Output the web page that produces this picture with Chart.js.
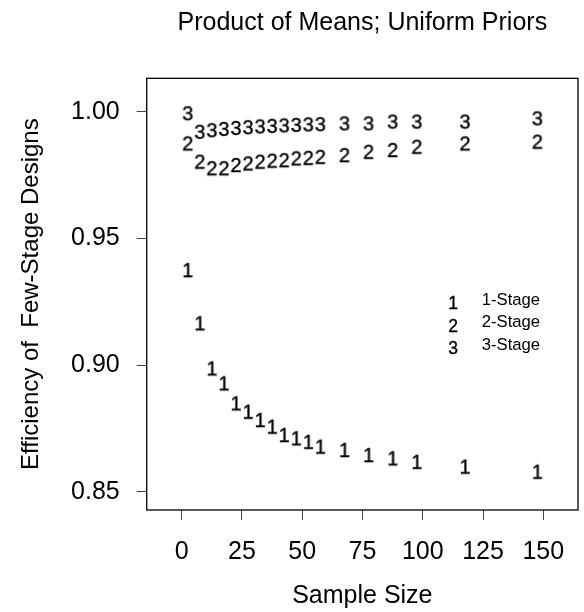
<!DOCTYPE html>
<html>
<head>
<meta charset="utf-8">
<script src="https://cdn.jsdelivr.net/npm/chart.js@4.4.1/dist/chart.umd.min.js"></script>
<style>
  html, body { margin: 0; padding: 0; background: #fff; }
</style>
</head>
<body>
<canvas id="myChart" width="584" height="612"></canvas>
<script>
// values
let sampleSize = [2.5, 7.5, 12.5, 17.5, 22.5, 27.5, 32.5, 37.5, 42.5, 47.5, 52.5, 57.5, 67.5, 77.5, 87.5, 97.5, 117.5, 147.5];
let stage1 = [0.9375, 0.9165, 0.8987, 0.8928, 0.8849, 0.8816, 0.8783, 0.8757, 0.8724, 0.8711, 0.8697, 0.8678, 0.8665, 0.8645, 0.8632, 0.8618, 0.8599, 0.8579];
let stage2 = [0.9875, 0.9803, 0.9777, 0.9777, 0.9790, 0.9796, 0.9803, 0.9807, 0.9809, 0.9816, 0.9818, 0.9822, 0.9829, 0.9842, 0.9849, 0.9862, 0.9875, 0.9882];
let stage3 = [0.9994, 0.9921, 0.9927, 0.9932, 0.9936, 0.9939, 0.9942, 0.9944, 0.9946, 0.9948, 0.9950, 0.9951, 0.9954, 0.9954, 0.9961, 0.9961, 0.9961, 0.9974];
let xTicks = [0, 25, 50, 75, 100, 125, 150];
let yTicks = [0.85, 0.90, 0.95, 1.00];
let legendLabels = ['1-Stage', '2-Stage', '3-Stage'];

const FONT = '"Liberation Sans", Arial, Helvetica, sans-serif';
Chart.defaults.font.family = FONT;
Chart.defaults.color = '#000';

// a digit drawn on a small canvas, used as the point style
function digitImage(ch, size) {
  let c = document.createElement('canvas');
  c.width = Math.ceil(size * 0.8);
  c.height = Math.ceil(size * 1.0);
  let g = c.getContext('2d');
  g.font = size + 'px ' + FONT;
  g.fillStyle = '#000';
  g.strokeStyle = '#000';
  g.lineWidth = 0.35;
  g.textAlign = 'center';
  g.textBaseline = 'alphabetic';
  let by = c.height / 2 + size * 0.716 / 2;
  g.fillText(ch, c.width / 2, by);
  g.strokeText(ch, c.width / 2, by);
  return c;
}

function pts(ys) {
  return sampleSize.map((x, i) => ({x: x, y: ys[i]}));
}

let marks = ['1', '2', '3'].map(d => digitImage(d, 20));
let legendMarks = ['1', '2', '3'].map(d => digitImage(d, 17.5));

const boxPlugin = {
  id: 'box',
  beforeDatasetsDraw(chart) {
    let a = chart.chartArea, ctx = chart.ctx;
    ctx.save();
    ctx.strokeStyle = '#000';
    ctx.lineWidth = 1.3;
    ctx.strokeRect(a.left, a.top, a.right - a.left, a.bottom - a.top);
    ctx.restore();
  }
};

const legendPlugin = {
  id: 'innerLegend',
  afterDatasetsDraw(chart) {
    let a = chart.chartArea, ctx = chart.ctx;
    ctx.save();
    ctx.font = '16.7px ' + FONT;
    ctx.fillStyle = '#000';
    ctx.textAlign = 'left';
    ctx.textBaseline = 'middle';
    for (let i = 0; i < legendLabels.length; i++) {
      let img = legendMarks[i];
      let cy = a.top + 225 + i * 22.5;
      ctx.drawImage(img, Math.round(a.left + 306.6 - img.width / 2), Math.round(cy - img.height / 2));
      ctx.fillText(legendLabels[i], a.left + 335, cy - 3);
    }
    ctx.restore();
  }
};

let ctx = document.getElementById('myChart').getContext('2d');
const myChart = new Chart(ctx, {
  type: 'scatter',
  data: {
    datasets: [
      {label: '1-Stage', data: pts(stage1), pointStyle: marks[0]},
      {label: '2-Stage', data: pts(stage2), pointStyle: marks[1]},
      {label: '3-Stage', data: pts(stage3), pointStyle: marks[2]}
    ]
  },
  options: {
    responsive: false,
    animation: false,
    layout: {padding: {left: 0, right: 6, top: 0, bottom: 0}},
    scales: {
      x: {
        type: 'linear',
        min: -14.5,
        max: 164.4,
        afterBuildTicks: axis => { axis.ticks = xTicks.map(v => ({value: v})); },
        afterFit: axis => { axis.height = 102; },
        ticks: {font: {size: 25}, color: '#000', padding: 17, maxRotation: 0, autoSkip: false},
        grid: {display: true, drawOnChartArea: false, drawTicks: true, tickLength: 10, color: '#444'},
        border: {display: false},
        title: {display: true, text: 'Sample Size', font: {size: 25}, color: '#000', padding: {top: 0, bottom: 1}}
      },
      y: {
        type: 'linear',
        min: 0.8428,
        max: 1.0132,
        afterBuildTicks: axis => { axis.ticks = yTicks.map(v => ({value: v})); },
        afterFit: axis => { axis.width = 146.7; },
        ticks: {font: {size: 25}, color: '#000', padding: 17, callback: v => v.toFixed(2)},
        grid: {display: true, drawOnChartArea: false, drawTicks: true, tickLength: 10, color: '#444'},
        border: {display: false},
        title: {display: true, text: 'Efficiency of  Few-Stage Designs', font: {size: 24}, color: '#000', padding: {top: 17, bottom: 0}}
      }
    },
    plugins: {
      legend: {display: false},
      tooltip: {enabled: false},
      title: {
        display: true,
        text: 'Product of Means; Uniform Priors',
        fullSize: false,
        font: {size: 25, weight: 'normal'},
        color: '#000',
        padding: {top: 8, bottom: 40.3}
      }
    }
  },
  plugins: [boxPlugin, legendPlugin]
});
</script>
</body>
</html>
